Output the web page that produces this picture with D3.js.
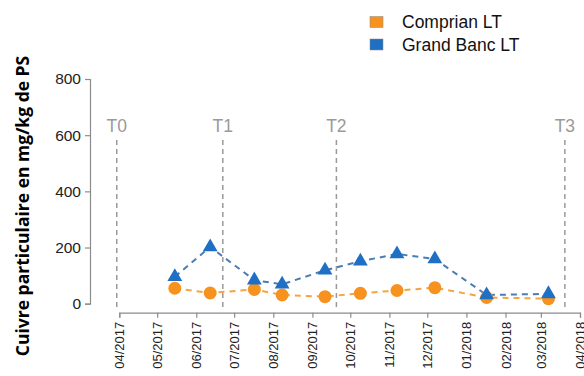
<!DOCTYPE html>
<html>
<head>
<meta charset="utf-8">
<script src="https://cdn.jsdelivr.net/npm/d3@7"></script>
<style>
  html, body { margin: 0; padding: 0; background: #fff; }
  svg { display: block; font-family: "Liberation Sans", Arial, sans-serif; }
</style>
</head>
<body>
<svg id="chart" width="584" height="376"></svg>
<script>
// Sampling dates (particulate copper survey)
const sampleDates = ["2017-05-15", "2017-06-12", "2017-07-17", "2017-08-08", "2017-09-11",
                     "2017-10-09", "2017-11-07", "2017-12-07", "2018-01-17", "2018-03-07"];
// Copper in mg/kg dry matter
const comprianValues   = [55, 38, 51, 31, 25, 37, 47, 57, 22, 18];
const grandBancValues  = [96, 202, 84, 69, 119, 151, 177, 159, 31, 35];
const seriesNames = ["Comprian LT", "Grand Banc LT"];
// Campaign markers
const phaseLabels = ["T0", "T1", "T2", "T3"];
const phaseDates  = ["2017-03-30", "2017-06-22", "2017-09-20", "2018-03-20"];
const yTicks = [0, 200, 400, 600, 800];
const xDomain = ["2017-04-01", "2018-04-01"];

const parse = d3.timeParse("%Y-%m-%d");
const svg = d3.select("#chart");

const x = d3.scaleTime().domain(xDomain.map(parse)).range([119.3, 580]);
const y = d3.scaleLinear().domain([0, 800]).range([303.7, 79]);

const axisGrey = "#8c8c8c";
const orangeMark = "#f7921e", orangeLine = "#f4a444";
const blueMark = "#1f6fc4", blueLine = "#4a7db3";

// Y axis (detached, R style)
const yAxis = svg.append("g").attr("transform", "translate(90,0)")
  .call(d3.axisLeft(y).tickValues(yTicks).tickSize(5).tickPadding(4).tickFormat(d3.format("d")));
yAxis.select(".domain").attr("stroke", axisGrey).attr("stroke-width", 1.2);
yAxis.selectAll(".tick line").attr("stroke", axisGrey).attr("stroke-width", 1.2);
yAxis.selectAll("text").attr("font-size", 15.5).attr("fill", "#222")
  .attr("font-family", "'Liberation Sans', Arial, sans-serif");

// X axis with monthly ticks
const xAxis = svg.append("g").attr("transform", "translate(0,312.7)")
  .call(d3.axisBottom(x).ticks(d3.timeMonth.every(1)).tickSize(5).tickFormat(d3.timeFormat("%m/%Y")));
xAxis.select(".domain").attr("stroke", axisGrey).attr("stroke-width", 1.2);
xAxis.selectAll(".tick line").attr("stroke", axisGrey).attr("stroke-width", 1.2);
xAxis.selectAll("text")
  .attr("font-size", 13).attr("fill", "#222")
  .attr("font-family", "'Liberation Sans', Arial, sans-serif")
  .attr("transform", "rotate(-90)")
  .attr("text-anchor", "end")
  .attr("x", -9).attr("y", 0).attr("dy", "0.35em");

// Campaign dashed verticals and labels
phaseLabels.forEach((lab, i) => {
  const px = x(parse(phaseDates[i]));
  svg.append("line")
    .attr("x1", px).attr("x2", px).attr("y1", 140).attr("y2", 311)
    .attr("stroke", "#9a9a9a").attr("stroke-width", 1.5).attr("stroke-dasharray", "5,4");
  svg.append("text")
    .attr("x", px).attr("y", 132).attr("text-anchor", "middle")
    .attr("font-size", 17.5).attr("fill", "#9a9a9a").text(lab);
});

// Series lines
const dates = sampleDates.map(parse);
const line = d3.line().x(d => x(d[0])).y(d => y(d[1]));
const comprian = dates.map((d, i) => [d, comprianValues[i]]);
const grandBanc = dates.map((d, i) => [d, grandBancValues[i]]);

svg.append("path").datum(grandBanc).attr("d", line)
  .attr("fill", "none").attr("stroke", blueLine).attr("stroke-width", 2).attr("stroke-dasharray", "6,5");
svg.append("path").datum(comprian).attr("d", line)
  .attr("fill", "none").attr("stroke", orangeLine).attr("stroke-width", 2).attr("stroke-dasharray", "6,5");

// Markers: circles for Comprian, triangles for Grand Banc
svg.append("g").selectAll("circle").data(comprian).join("circle")
  .attr("cx", d => x(d[0])).attr("cy", d => y(d[1])).attr("r", 6.5).attr("fill", orangeMark);

const tri = d3.symbol().type(d3.symbolTriangle).size(95);
svg.append("g").selectAll("path").data(grandBanc).join("path")
  .attr("transform", d => `translate(${x(d[0])},${y(d[1])})`)
  .attr("d", tri).attr("fill", blueMark);

// Legend
const legend = svg.append("g");
[orangeMark, blueMark].forEach((c, i) => {
  legend.append("rect").attr("x", 370).attr("y", 16.5 + i * 22.5).attr("width", 13).attr("height", 11)
    .attr("fill", c).attr("stroke", "#888").attr("stroke-width", 0.5);
  legend.append("text").attr("x", 402).attr("y", 28 + i * 22.5)
    .attr("font-size", 17.5).attr("fill", "#111").text(seriesNames[i]);
});

// Y axis title
svg.append("text")
  .attr("transform", "translate(29,206) rotate(-90)")
  .attr("text-anchor", "middle")
  .attr("font-family", "'Open Sans', 'Noto Sans', sans-serif")
  .attr("font-weight", "bold").attr("font-size", 17.5).attr("fill", "#000")
  .text("Cuivre particulaire en mg/kg de PS");
</script>
</body>
</html>
